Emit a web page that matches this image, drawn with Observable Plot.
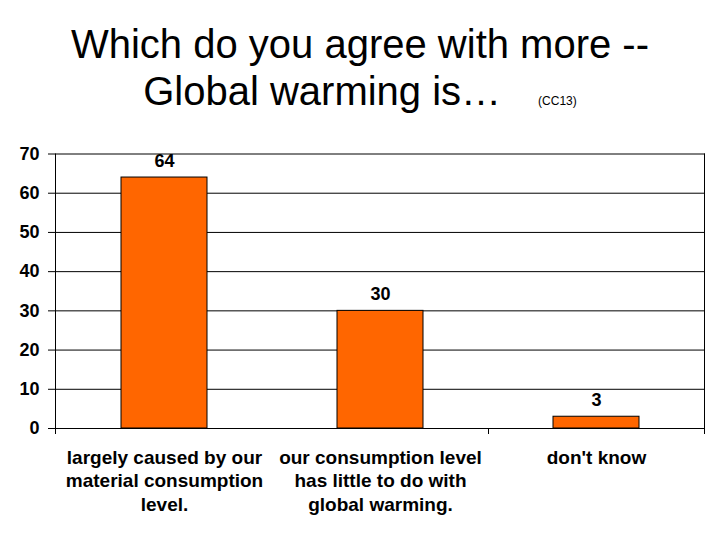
<!DOCTYPE html>
<html>
<head>
<meta charset="utf-8">
<script src="https://cdn.jsdelivr.net/npm/d3@7"></script>
<script src="https://cdn.jsdelivr.net/npm/@observablehq/plot@0.6"></script>
<style>
  body { margin: 0; background: #fff; font-family: Arial, "Liberation Sans", sans-serif; }
  #title { height: 140px; box-sizing: border-box; padding-top: 21px; text-align: center; font-size: 40px; line-height: 47px; color: #000; }
  #title .code { font-size: 12px; margin-left: 37px; }
</style>
</head>
<body>
<div id="title">Which do you agree with more --<br>Global warming is…<span class="code">(CC13)</span></div>
<div id="chart"></div>
<script>
const categories = [
  "largely caused by our\nmaterial consumption\nlevel.",
  "our consumption level\nhas little to do with\nglobal warming.",
  "don't know"
];
const values = [64, 30, 3];
const yTicks = [0, 10, 20, 30, 40, 50, 60, 70];

const data = categories.map((c, i) => ({category: c, value: values[i]}));

// Custom mark: right border of plot area, y axis line and category boundary tick mark
function boundaries(index, scales, vals, dims) {
  const x = scales.x;
  const step = x.step ? x.step() : (dims.width - dims.marginLeft - dims.marginRight) / categories.length;
  const bw = x.bandwidth ? x.bandwidth() : 0;
  const g = d3.create("svg:g").attr("stroke", "#000").attr("stroke-width", 1);
  const top = dims.marginTop;
  const bottom = dims.height - dims.marginBottom;
  const right = dims.width - dims.marginRight;
  g.append("line").attr("x1", right - 0.5).attr("x2", right - 0.5).attr("y1", top).attr("y2", bottom + 6);
  const b = x(categories[2]) - (step - bw) / 2;
  g.append("line").attr("x1", Math.round(b) + 0.5).attr("x2", Math.round(b) + 0.5).attr("y1", bottom).attr("y2", bottom + 6);
  g.append("line").attr("x1", dims.marginLeft + 0.5).attr("x2", dims.marginLeft + 0.5).attr("y1", top).attr("y2", bottom + 6);
  return g.node();
}

const chart = Plot.plot({
  width: 720,
  height: 400,
  marginLeft: 55,
  marginRight: 15,
  marginTop: 13.5,
  marginBottom: 112,
  style: {fontFamily: 'Arial, "Liberation Sans", sans-serif', background: "#fff"},
  x: {domain: categories, paddingInner: 0.6, paddingOuter: 0.3, axis: null},
  y: {domain: [0, 70], axis: null},
  marks: [
    Plot.gridY(yTicks, {stroke: "#000", strokeOpacity: 1}),
    Plot.axisY(yTicks, {
      label: null, tickSize: 7, tickPadding: 9, fontSize: 18, fontWeight: "bold",
      stroke: "#000", fill: "#000"
    }),
    Plot.barY(data, {x: "category", y: "value", fill: "#FF6600", stroke: "#000", strokeWidth: 1}),
    Plot.text(data, {
      x: "category", y: "value", text: d => String(d.value),
      lineAnchor: "bottom", dy: -11, fontSize: 18, fontWeight: "bold", fill: "#000"
    }),
    Plot.text(data, {
      x: "category", text: "category", frameAnchor: "bottom", lineAnchor: "top",
      dy: 18, fontSize: 19, fontWeight: "bold", lineHeight: 1.26, fill: "#000"
    }),
    Plot.ruleY([0], {stroke: "#000"}),
    boundaries
  ]
});
document.getElementById("chart").appendChild(chart);
</script>
</body>
</html>
